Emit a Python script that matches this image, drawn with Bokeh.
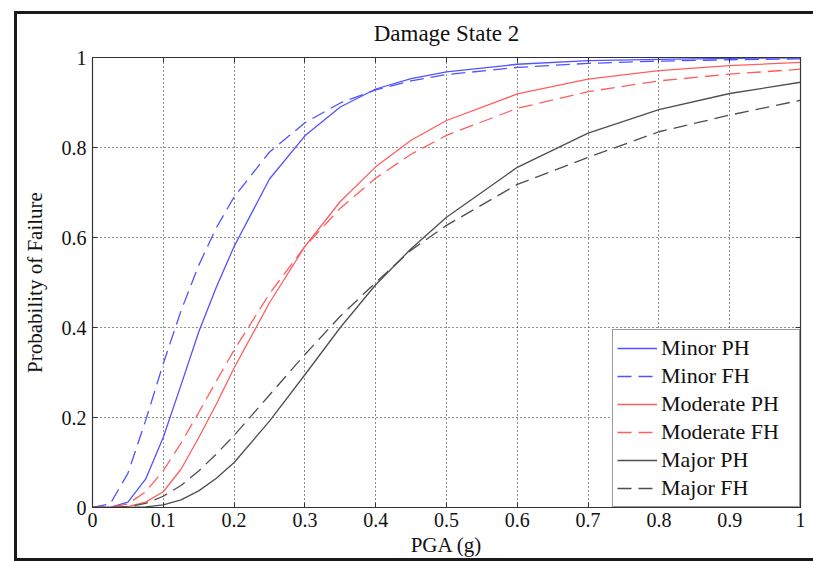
from bokeh.plotting import figure
from bokeh.models import (FixedTicker, LinearAxis, Legend, LegendItem, Range1d,
                          CustomJSTickFormatter)
from bokeh.embed import file_html
from bokeh.resources import INLINE

pga = [0, 0.025, 0.05, 0.075, 0.1, 0.125, 0.15, 0.175, 0.2, 0.25, 0.3, 0.35,
       0.4, 0.45, 0.5, 0.6, 0.7, 0.8, 0.9, 1.0]
minor_ph = [0, 0.0002, 0.012, 0.063, 0.156, 0.272, 0.39, 0.49, 0.58, 0.73, 0.826,
            0.89, 0.93, 0.953, 0.968, 0.985, 0.993, 0.996, 0.998, 0.999]
minor_fh = [0, 0.008, 0.076, 0.193, 0.32, 0.437, 0.538, 0.622, 0.69, 0.79, 0.855,
            0.899, 0.928, 0.948, 0.962, 0.978, 0.987, 0.992, 0.995, 0.997]
moderate_ph = [0, 0, 0.002, 0.012, 0.035, 0.085, 0.155, 0.23, 0.31, 0.455, 0.58,
               0.68, 0.757, 0.816, 0.86, 0.919, 0.952, 0.971, 0.982, 0.989]
moderate_fh = [0, 0.0003, 0.008, 0.035, 0.082, 0.143, 0.211, 0.281, 0.35, 0.475, 0.58,
               0.665, 0.732, 0.785, 0.827, 0.887, 0.924, 0.948, 0.963, 0.974]
major_ph = [0, 0, 0.0001, 0.0013, 0.006, 0.017, 0.037, 0.065, 0.1, 0.192, 0.295,
            0.40, 0.495, 0.575, 0.645, 0.756, 0.832, 0.884, 0.92, 0.945]
major_fh = [0, 0, 0.0017, 0.009, 0.025, 0.049, 0.081, 0.119, 0.16, 0.25, 0.34,
            0.425, 0.50, 0.572, 0.627, 0.718, 0.778, 0.835, 0.872, 0.905]

x_ticks = [0, 0.1, 0.2, 0.3, 0.4, 0.5, 0.6, 0.7, 0.8, 0.9, 1]
x_labels = ["0", "0.1", "0.2", "0.3", "0.4", "0.5", "0.6", "0.7", "0.8", "0.9", "1"]
y_ticks = [0, 0.2, 0.4, 0.6, 0.8, 1]
y_labels = ["0", "0.2", "0.4", "0.6", "0.8", "1"]

FONT = "Liberation Serif"

p = figure(width=799, height=556, x_range=Range1d(0, 1), y_range=Range1d(0, 1),
           output_backend="svg", toolbar_location=None,
           min_border_left=78, min_border_right=13, min_border_top=52, min_border_bottom=54,
           title="Damage State 2")
p.margin = (5, 0, 0, 14)
p.border_fill_alpha = 0
bar = "linear-gradient(#1a1a1a,#1a1a1a)"
p.styles = {
    "background": (f"{bar} left 0px top 6px / 100% 3px no-repeat, "
                   f"{bar} left 0px top 6px / 3px 550px no-repeat, "
                   f"{bar} left 0px top 553px / 100% 3px no-repeat")
}

p.title.text_font = FONT
p.title.text_font_size = "23px"
p.title.text_font_style = "normal"
p.title.align = "center"
p.title.text_color = "#111111"
p.title.standoff = 23

p.outline_line_color = "#333333"
p.outline_line_width = 1.2

for ax, ticks, labels in ((p.xaxis[0], x_ticks, x_labels), (p.yaxis[0], y_ticks, y_labels)):
    ax.ticker = FixedTicker(ticks=ticks)
    ax.major_label_overrides = {t: l for t, l in zip(ticks, labels)}
    ax.major_tick_in = 5
    ax.major_tick_out = 0
    ax.minor_tick_line_color = None
    ax.axis_line_color = "#333333"
    ax.major_tick_line_color = "#333333"
    ax.major_label_text_font = FONT
    ax.major_label_text_font_size = "20px"
    ax.major_label_text_color = "#111111"
    ax.axis_label_text_font = FONT
    ax.axis_label_text_font_size = "21px"
    ax.axis_label_text_font_style = "normal"
    ax.axis_label_text_color = "#111111"

p.xaxis[0].axis_label = "PGA (g)"
p.xaxis[0].major_label_standoff = 5
p.xaxis[0].axis_label_standoff = 3
p.yaxis[0].axis_label = "Probability of Failure"
p.yaxis[0].major_label_standoff = 6
p.yaxis[0].axis_label_standoff = 12

blank = CustomJSTickFormatter(code="return ''")
top = LinearAxis(ticker=FixedTicker(ticks=x_ticks), major_tick_in=5, major_tick_out=0,
                 minor_tick_line_color=None, formatter=blank,
                 axis_line_color="#333333", major_tick_line_color="#333333")
right = LinearAxis(ticker=FixedTicker(ticks=y_ticks), major_tick_in=5, major_tick_out=0,
                   minor_tick_line_color=None, formatter=blank,
                   axis_line_color="#333333", major_tick_line_color="#333333")
p.add_layout(top, "above")
p.add_layout(right, "right")

p.xgrid.ticker = FixedTicker(ticks=x_ticks)
p.ygrid.ticker = FixedTicker(ticks=y_ticks)
for g in (p.xgrid[0], p.ygrid[0]):
    g.grid_line_color = "#222222"
    g.grid_line_dash = "1 3"
    g.grid_line_width = 1

BLUE = "#5252ff"
RED = "#ff5e5e"
BLACK = "#4e4e4e"
DASH = "14 7"

series = [
    ("Minor PH", minor_ph, BLUE, "solid"),
    ("Minor FH", minor_fh, BLUE, DASH),
    ("Moderate PH", moderate_ph, RED, "solid"),
    ("Moderate FH", moderate_fh, RED, DASH),
    ("Major PH", major_ph, BLACK, "solid"),
    ("Major FH", major_fh, BLACK, DASH),
]
items = []
for name, ys, col, dash in series:
    r = p.line(pga, ys, line_color=col, line_width=1.3, line_dash=dash)
    items.append(LegendItem(label=name, renderers=[r]))

legend = Legend(items=items, location="bottom_right", margin=0, padding=4, spacing=0,
                label_text_font=FONT, label_text_font_size="22px", label_text_color="#111111",
                glyph_width=40, glyph_height=28, label_height=28, label_standoff=4,
                label_width=134,
                border_line_color="#333333", border_line_width=1.5,
                background_fill_color="white", background_fill_alpha=1)
p.add_layout(legend)

open("out.html", "w").write(file_html(p, INLINE))
